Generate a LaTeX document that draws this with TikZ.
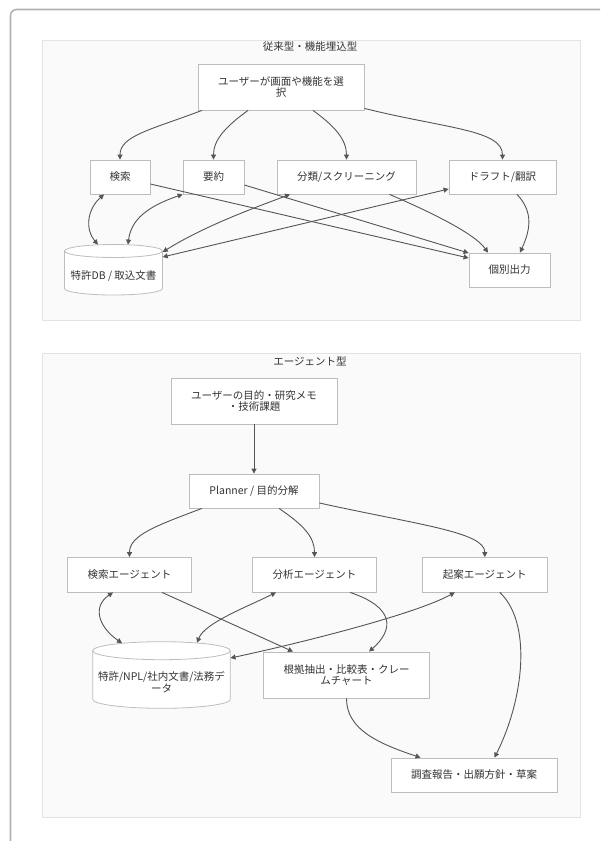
\documentclass[tikz,border=0pt]{standalone}
\usepackage{fontspec}
\setmainfont{Noto Sans CJK JP}
\usetikzlibrary{arrows.meta}
\definecolor{edgec}{HTML}{555555}
\definecolor{boxline}{HTML}{BDBDBD}
\definecolor{txt}{HTML}{333333}
\definecolor{clfill}{HTML}{FAFAFA}
\definecolor{clline}{HTML}{E3E3E3}
\definecolor{framec}{HTML}{B3B3B3}
\begin{document}
\begin{tikzpicture}[x=1pt,y=1pt,
  box/.style={draw=boxline, fill=white, line width=0.8pt, inner sep=0pt, align=center, text=txt,
    font=\fontsize{10.5}{11.5}\selectfont},
  ghost/.style={draw=none, inner sep=0pt},
  lbl/.style={inner sep=0pt, align=center, text=txt, font=\fontsize{10.5}{11.5}\selectfont},
  cyl/.style={draw=boxline, fill=white, line width=0.8pt},
  cluster/.style={draw=clline, fill=clfill, line width=0.8pt},
  edge/.style={draw=edgec, line width=0.9pt, -{Triangle[length=5pt,width=5pt]}},
  bedge/.style={draw=edgec, line width=0.9pt, {Triangle[length=5pt,width=5pt]}-{Triangle[length=5pt,width=5pt]}}
]
\useasboundingbox (0,0) rectangle (600,-841);
\clip (0,0) rectangle (600,-841);
\fill[white] (0,0) rectangle (600,-841);
\draw[draw=framec, line width=1.6pt, rounded corners=6pt] (10.5,-870) -- (10.5,-9.5) -- (640,-9.5);

% ---------- upper cluster ----------
\draw[cluster] (42,-40) rectangle (580,-320);
\node[lbl] (t1) at (310,-47) {従来型・機能埋込型};

\node[box, minimum width=166pt, minimum height=46pt] (u1) at (281,-87) {ユーザーが画面や機能を選\\択};
\node[box, minimum width=60pt, minimum height=34pt] (s1) at (120,-177) {検索};
\node[box, minimum width=61pt, minimum height=34pt] (s2) at (213.5,-177) {要約};
\node[box, minimum width=139pt, minimum height=34pt] (s3) at (346.5,-177) {分類/スクリーニング};
\node[box, minimum width=107pt, minimum height=34pt] (s4) at (502.5,-177) {ドラフト/翻訳};
\node[box, minimum width=81pt, minimum height=34pt] (out) at (509.5,-270) {個別出力};

\draw[cyl] (64.5,-251) -- (64.5,-288.5) arc[start angle=180,end angle=360,x radius=49,y radius=6.5]
  -- (162.5,-251) arc[start angle=0,end angle=180,x radius=49,y radius=6.5] -- cycle;
\draw[cyl, fill=none] (64.5,-251) arc[start angle=180,end angle=360,x radius=49,y radius=6.5];
\node[ghost, minimum width=98pt, minimum height=50.5pt] (db1) at (113.5,-269.75) {};
\node[lbl] (db1t) at (113.5,-276) {特許DB / 取込文書};

\draw[edge] ([xshift=-79pt]u1.south) .. controls +(-50,-19) and +(0,24) .. (s1.north);
\draw[edge] ([xshift=-33pt]u1.south) .. controls +(-22,-16) and +(0,20) .. (s2.north);
\draw[edge] ([xshift=32pt]u1.south) .. controls +(22,-16) and +(0,20) .. (s3.north);
\draw[edge] ([yshift=2pt]u1.south east) .. controls +(80,-20) and +(0,30) .. (s4.north);

\draw[edge] ([yshift=-7pt]s1.east) -- ([yshift=12pt]out.west);
\draw[edge] ([yshift=-8pt]s2.east) -- ([yshift=17pt]out.west);
\draw[edge] ([xshift=43pt]s3.south) .. controls +(35,-15) and +(-14,20) .. ([xshift=-21.5pt]out.north);
\draw[edge] ([xshift=14.5pt]s4.south) .. controls +(17,-18) and +(10,22) .. ([xshift=10.5pt]out.north);

\draw[bedge] ([xshift=-16pt]s1.south) .. controls +(-17,-15) and +(-13,15) .. ([xshift=-15.5pt,yshift=-0.3pt]db1.north);
\draw[bedge] (s2.south west) .. controls +(-35,-12) and +(3,25) .. ([xshift=14.5pt,yshift=-0.3pt]db1.north);
\draw[bedge] ([xshift=-56.5pt]s3.south) .. controls +(-40,-15) and +(40,25) .. ([yshift=17.75pt]db1.east);
\draw[bedge] ([yshift=-12pt]s4.west) -- ([yshift=12.75pt]db1.east);

% ---------- lower cluster ----------
\draw[cluster] (42,-353) rectangle (580,-817);
\node[lbl] (t2) at (310,-361) {エージェント型};

\node[box, minimum width=166pt, minimum height=46pt] (u2) at (254,-401) {ユーザーの目的・研究メモ\\・技術課題};
\node[box, minimum width=130pt, minimum height=34pt] (p) at (254,-491) {Planner / 目的分解};
\node[box, minimum width=124pt, minimum height=34.5pt] (a1) at (129.5,-574.75) {検索エージェント};
\node[box, minimum width=124pt, minimum height=34.5pt] (a2) at (314.5,-574.75) {分析エージェント};
\node[box, minimum width=124.4pt, minimum height=34.5pt] (a3) at (484.8,-574.75) {起案エージェント};
\node[box, minimum width=166pt, minimum height=46pt] (ev) at (346.5,-675) {根拠抽出・比較表・クレー\\ムチャート};
\node[box, minimum width=166pt, minimum height=34pt] (rpt) at (474,-775) {調査報告・出願方針・草案};

\draw[cyl] (92.7,-650.7) -- (92.7,-699.3) arc[start angle=180,end angle=360,x radius=68.8,y radius=9]
  -- (230.3,-650.7) arc[start angle=0,end angle=180,x radius=68.8,y radius=9] -- cycle;
\draw[cyl, fill=none] (92.7,-650.7) arc[start angle=180,end angle=360,x radius=68.8,y radius=9];
\node[ghost, minimum width=137.6pt, minimum height=66.6pt] (db2) at (161.5,-675) {};
\node[lbl] (db2t) at (161.5,-682) {特許/NPL/社内文書/法務デ\\ータ};

\draw[edge] (u2.south) -- (p.north);
\draw[edge] ([xshift=-52pt]p.south) .. controls +(-45,-17) and +(0,22) .. (a1.north);
\draw[edge] ([xshift=25pt]p.south) .. controls +(25,-17) and +(0,20) .. (a2.north);
\draw[edge] ([yshift=-12pt]p.east) .. controls +(100,-22) and +(0,25) .. (a3.north);

\draw[bedge] ([xshift=-16.5pt]a1.south) .. controls +(-22,-15) and +(-22,15) .. ([xshift=-39.5pt,yshift=-1.6pt]db2.north);
\draw[bedge] ([xshift=-38.5pt]a2.south) .. controls +(-30,-15) and +(8,20) .. ([xshift=35.5pt,yshift=-1.2pt]db2.north);
\draw[bedge] ([xshift=-30pt]a3.south) .. controls +(-40,-22) and +(70,15) .. ([yshift=17pt]db2.east);

\draw[edge] ([xshift=32.5pt]a1.south) -- ([xshift=-53.5pt]ev.north);
\draw[edge] ([xshift=35.5pt]a2.south) .. controls +(45,-15) and +(25,22) .. ([xshift=22.5pt]ev.north);
\draw[edge] (ev.south) .. controls +(0,-30) and +(-45,15) .. ([xshift=-53.5pt]rpt.north);
\draw[edge] ([xshift=15pt]a3.south) .. controls +(32,-30) and +(30,60) .. ([xshift=20.5pt]rpt.north);
\end{tikzpicture}
\end{document}
